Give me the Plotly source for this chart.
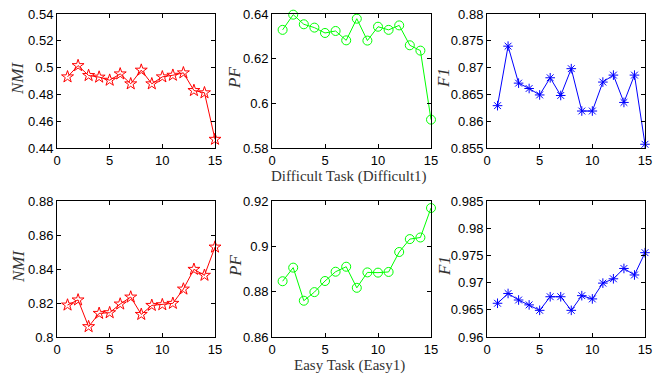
import plotly.graph_objects as go

x = list(range(1, 16))

# Difficult task (Difficult1)
nmi_diff = [0.4931, 0.5015, 0.4941, 0.4929, 0.4906, 0.4953, 0.4879, 0.4981,
            0.4879, 0.4931, 0.4943, 0.4961, 0.4829, 0.4812, 0.4465]
pf_diff = [0.6329, 0.6397, 0.6354, 0.6339, 0.6315, 0.6324, 0.6282, 0.6379,
           0.6281, 0.6343, 0.6329, 0.6349, 0.6260, 0.6236, 0.5927]
f1_diff = [0.8629, 0.8740, 0.8671, 0.8661, 0.8649, 0.8681, 0.8648, 0.8698,
           0.8619, 0.8619, 0.8673, 0.8686, 0.8635, 0.8686, 0.8557]

# Easy task (Easy1)
nmi_easy = [0.8188, 0.8218, 0.8061, 0.8139, 0.8143, 0.8194, 0.8235, 0.8133,
            0.8186, 0.8190, 0.8198, 0.8282, 0.8398, 0.8363, 0.8529]
pf_easy = [0.8846, 0.8906, 0.8760, 0.8798, 0.8847, 0.8888, 0.8910, 0.8817,
           0.8885, 0.8884, 0.8887, 0.8975, 0.9032, 0.9039, 0.9169]
f1_easy = [0.9662, 0.9680, 0.9668, 0.9659, 0.9649, 0.9674, 0.9674, 0.9649,
           0.9676, 0.9670, 0.9699, 0.9707, 0.9726, 0.9714, 0.9755]

x_ticks = [0, 5, 10, 15]
x_ticklabels = ["0", "5", "10", "15"]

yticks = {
    "nmi_diff": ([0.44, 0.46, 0.48, 0.50, 0.52, 0.54], ["0.44", "0.46", "0.48", "0.5", "0.52", "0.54"]),
    "pf_diff": ([0.58, 0.60, 0.62, 0.64], ["0.58", "0.6", "0.62", "0.64"]),
    "f1_diff": ([0.855, 0.86, 0.865, 0.87, 0.875, 0.88], ["0.855", "0.86", "0.865", "0.87", "0.875", "0.88"]),
    "nmi_easy": ([0.80, 0.82, 0.84, 0.86, 0.88], ["0.8", "0.82", "0.84", "0.86", "0.88"]),
    "pf_easy": ([0.86, 0.88, 0.90, 0.92], ["0.86", "0.88", "0.9", "0.92"]),
    "f1_easy": ([0.96, 0.965, 0.97, 0.975, 0.98, 0.985], ["0.96", "0.965", "0.97", "0.975", "0.98", "0.985"]),
}

panels = [
    ("nmi_diff", nmi_diff, "#ff0000", "star-open", 9, "NMI"),
    ("pf_diff", pf_diff, "#00ff00", "circle-open", 9, "PF"),
    ("f1_diff", f1_diff, "#0000ff", "asterisk-open", 8, "F1"),
    ("nmi_easy", nmi_easy, "#ff0000", "star-open", 9, "NMI"),
    ("pf_easy", pf_easy, "#00ff00", "circle-open", 9, "PF"),
    ("f1_easy", f1_easy, "#0000ff", "asterisk-open", 8, "F1"),
]

W, H = 667, 374
xdoms = [(57, 215), (272, 431), (487, 645)]
ydoms = [(14, 148), (201, 337)]

fig = go.Figure()
tickfont = dict(family="Liberation Sans, Arial, sans-serif", size=13, color="#000")
serif = "Liberation Serif, Times New Roman, serif"

annotations = []
for i, (key, vals, color, sym, msize, label) in enumerate(panels):
    r, c = divmod(i, 3)
    n = i + 1
    xa = "x" if n == 1 else f"x{n}"
    ya = "y" if n == 1 else f"y{n}"
    fig.add_trace(go.Scatter(
        x=x, y=vals, mode="lines+markers", xaxis=xa, yaxis=ya,
        line=dict(color=color, width=1),
        marker=dict(symbol=sym, size=msize, color=color, line=dict(width=1, color=color)),
        showlegend=False, cliponaxis=False,
    ))
    tv, tt = yticks[key]
    x0, x1 = xdoms[c]
    y0, y1 = ydoms[r]
    common = dict(showline=True, mirror="ticks", linecolor="#000", linewidth=1,
                  ticks="inside", ticklen=4, tickcolor="#000", showgrid=False,
                  zeroline=False, tickfont=tickfont, automargin=False)
    fig.layout[f"xaxis{'' if n == 1 else n}"] = dict(
        domain=[x0 / W, x1 / W], range=[0, 15], tickvals=x_ticks, ticktext=x_ticklabels,
        anchor=ya, **common)
    fig.layout[f"yaxis{'' if n == 1 else n}"] = dict(
        domain=[1 - y1 / H, 1 - y0 / H], range=[tv[0], tv[-1]], tickvals=tv, ticktext=tt,
        anchor=xa, **common)
    ylab_x = [18, 235, 444][c]
    annotations.append(dict(
        text=f"<i>{label}</i>", x=ylab_x / W, y=1 - ((y0 + y1) / 2 - 3) / H,
        xref="paper", yref="paper", textangle=-90, showarrow=False,
        font=dict(family=serif, size=17, color="#333"), xanchor="center", yanchor="middle"))

annotations.append(dict(text="Difficult Task (Difficult1)", x=349 / W, y=1 - 176 / H,
                        xref="paper", yref="paper", showarrow=False,
                        font=dict(family=serif, size=15, color="#333"),
                        xanchor="center", yanchor="middle"))
annotations.append(dict(text="Easy Task (Easy1)", x=350 / W, y=1 - 365 / H,
                        xref="paper", yref="paper", showarrow=False,
                        font=dict(family=serif, size=15, color="#333"),
                        xanchor="center", yanchor="middle"))

fig.update_layout(width=W, height=H, margin=dict(l=0, r=0, t=0, b=0),
                  paper_bgcolor="white", plot_bgcolor="white", annotations=annotations)

fig.write_html("out.html", config={"displayModeBar": False},
               post_script="document.body.style.margin='0';document.body.style.overflow='hidden';")
